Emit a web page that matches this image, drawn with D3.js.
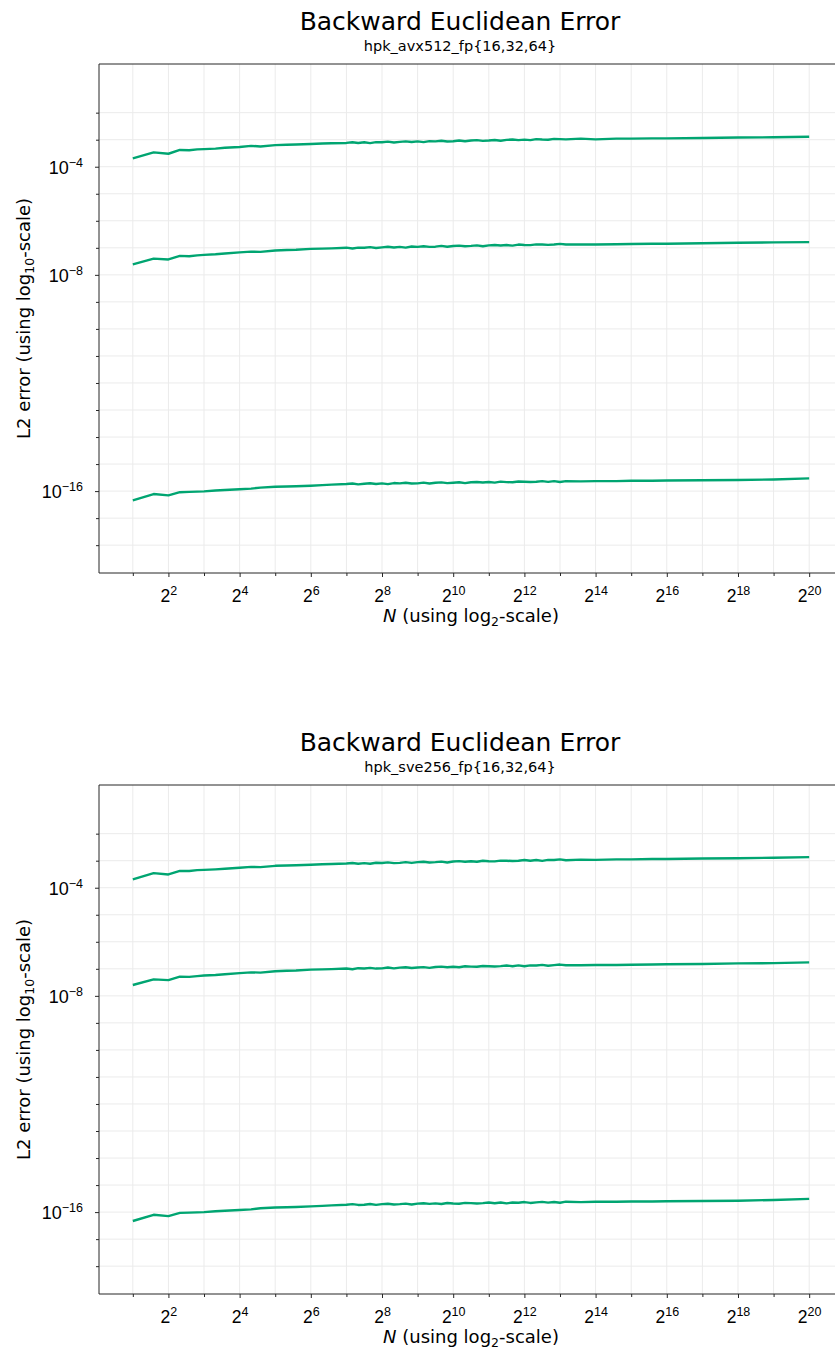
<!DOCTYPE html>
<html>
<head>
<meta charset="utf-8">
<script src="https://cdnjs.cloudflare.com/ajax/libs/d3/7.8.5/d3.min.js"></script>
<style>
  body { margin: 0; background: #fff; }
  svg { display: block; font-family: "DejaVu Sans", sans-serif; }
</style>
</head>
<body>
<div id="chart"></div>
<script>
// problem sizes N
const sizes = [2, 3, 4, 5, 6, 7, 8, 10, 12, 16, 20, 24, 32, 40, 48, 64, 80, 96,
  128, 144, 161, 181, 203, 228, 256, 287, 323, 362, 406, 456, 512, 575, 645, 724, 813, 912,
  1024, 1149, 1290, 1448, 1625, 1825, 2048, 2299, 2580, 2896, 3251, 3649, 4096, 4598, 5161,
  5793, 6502, 7298, 8192, 9195,
  12288, 16384, 24576, 32768, 49152, 65536, 131072, 262144, 524288, 1048576];

// log10 of the L2 error
const avx512Fp16 = [-3.69, -3.47, -3.52, -3.38, -3.39, -3.36, -3.35, -3.33, -3.30, -3.27, -3.23, -3.25, -3.20, -3.19, -3.18, -3.16, -3.14, -3.13,
  -3.120, -3.096, -3.122, -3.094, -3.125, -3.091, -3.097, -3.073, -3.105, -3.081, -3.062, -3.088, -3.064, -3.091, -3.052, -3.063, -3.039, -3.065, -3.057,
  -3.028, -3.059, -3.030, -3.016, -3.043, -3.029, -3.010, -3.041, -3.007, -2.994, -3.015, -2.996, -3.017, -2.978, -2.995, -3.001, -2.972, -2.978, -2.989,
  -2.96, -2.99, -2.96, -2.96, -2.95, -2.95, -2.94, -2.92, -2.91, -2.89];
const avx512Fp32 = [-7.61, -7.40, -7.43, -7.30, -7.31, -7.28, -7.26, -7.24, -7.21, -7.17, -7.14, -7.15, -7.10, -7.08, -7.07, -7.04, -7.03, -7.02,
  -6.995, -7.026, -6.992, -6.999, -6.975, -7.006, -6.982, -6.963, -6.990, -6.966, -6.992, -6.953, -6.964, -6.941, -6.967, -6.958, -6.929, -6.960, -6.932,
  -6.918, -6.944, -6.930, -6.911, -6.943, -6.909, -6.895, -6.916, -6.897, -6.919, -6.880, -6.896, -6.902, -6.873, -6.880, -6.891, -6.877, -6.853, -6.879,
  -6.88, -6.88, -6.87, -6.86, -6.85, -6.85, -6.83, -6.81, -6.80, -6.79];
const avx512Fp64 = [-16.34, -16.11, -16.16, -16.04, -16.03, -16.02, -16.01, -15.98, -15.96, -15.93, -15.91, -15.87, -15.84, -15.83, -15.82, -15.80, -15.78, -15.76,
  -15.740, -15.717, -15.750, -15.727, -15.709, -15.736, -15.714, -15.741, -15.703, -15.716, -15.693, -15.720, -15.713, -15.685, -15.717, -15.689, -15.677, -15.704, -15.691,
  -15.674, -15.706, -15.673, -15.661, -15.683, -15.665, -15.687, -15.650, -15.667, -15.674, -15.647, -15.654, -15.666, -15.654, -15.631, -15.658, -15.630, -15.663, -15.630,
  -15.64, -15.63, -15.63, -15.62, -15.62, -15.61, -15.60, -15.59, -15.57, -15.53];

const sve256Fp16 = [-3.69, -3.46, -3.51, -3.38, -3.38, -3.35, -3.34, -3.32, -3.30, -3.26, -3.23, -3.24, -3.19, -3.18, -3.17, -3.15, -3.13, -3.12,
  -3.105, -3.086, -3.112, -3.089, -3.115, -3.076, -3.087, -3.063, -3.090, -3.081, -3.052, -3.083, -3.054, -3.041, -3.067, -3.053, -3.034, -3.065, -3.032,
  -3.018, -3.039, -3.020, -3.041, -3.003, -3.019, -3.025, -2.996, -3.002, -3.014, -3.000, -2.976, -3.002, -2.973, -3.005, -2.971, -2.977, -2.953, -2.984,
  -2.96, -2.97, -2.95, -2.95, -2.94, -2.94, -2.92, -2.91, -2.89, -2.87];
const sve256Fp32 = [-7.60, -7.39, -7.42, -7.29, -7.30, -7.27, -7.25, -7.23, -7.20, -7.16, -7.13, -7.14, -7.09, -7.07, -7.06, -7.03, -7.02, -7.01,
  -6.990, -7.016, -6.977, -6.989, -6.965, -6.991, -6.982, -6.953, -6.985, -6.956, -6.942, -6.968, -6.954, -6.936, -6.967, -6.933, -6.919, -6.940, -6.922,
  -6.943, -6.904, -6.920, -6.926, -6.898, -6.904, -6.915, -6.901, -6.877, -6.904, -6.875, -6.906, -6.872, -6.878, -6.855, -6.886, -6.862, -6.843, -6.869,
  -6.87, -6.86, -6.86, -6.85, -6.84, -6.83, -6.82, -6.80, -6.79, -6.76];
const sve256Fp64 = [-16.33, -16.10, -16.15, -16.03, -16.02, -16.01, -16.00, -15.97, -15.95, -15.92, -15.90, -15.86, -15.83, -15.82, -15.81, -15.79, -15.77, -15.75,
  -15.730, -15.707, -15.735, -15.727, -15.699, -15.731, -15.704, -15.691, -15.718, -15.706, -15.688, -15.720, -15.688, -15.675, -15.697, -15.679, -15.702, -15.664, -15.681,
  -15.689, -15.661, -15.668, -15.681, -15.668, -15.645, -15.672, -15.645, -15.677, -15.644, -15.652, -15.629, -15.661, -15.639, -15.621, -15.648, -15.625, -15.653, -15.615,
  -15.63, -15.62, -15.62, -15.61, -15.61, -15.60, -15.59, -15.58, -15.55, -15.51];

const panelTitles = ["Backward Euclidean Error", "Backward Euclidean Error"];
const panelSubtitles = ["hpk_avx512_fp{16,32,64}", "hpk_sve256_fp{16,32,64}"];
const panelSeries = [[avx512Fp16, avx512Fp32, avx512Fp64], [sve256Fp16, sve256Fp32, sve256Fp64]];

// tick exponents
const xMajorPowers = [2, 4, 6, 8, 10, 12, 14, 16, 18, 20];
const xMinorPowers = [1, 3, 5, 7, 9, 11, 13, 15, 17, 19, 21];
const yMajorPowers = [-4, -8, -16];
const yGridPowers = [-18, -17, -16, -15, -14, -13, -12, -11, -10, -9, -8, -7, -6, -5, -4, -3, -2];

const width = 835
, height = 1351
, panelOffset = 721
, plotLeft = 99
, plotRight = 843
, plotTop = 64
, plotBottom = 573
, lineColor = "#00a571"
, gridColor = "#ebebeb"
, axisColor = "#262626";

const svg = d3.select("#chart").append("svg")
  .attr("width", width)
  .attr("height", height);

const xScale = d3.scaleLog().base(2)
  .domain([2 ** 0.05, 2 ** 20.95])
  .range([plotLeft, plotRight]);

const yScale = d3.scaleLog()
  .domain([10 ** -19.03, 10 ** -0.2])
  .range([plotBottom, plotTop]);

const supText = (sel, base, exp) => {
  sel.text(null);
  sel.append("tspan").text(base);
  sel.append("tspan").attr("dy", -7).style("font-size", "12.5px").text(exp);
};

const renderPanel = (idx) => {
  const g = svg.append("g")
    .attr("transform", `translate(0,${idx * panelOffset})`);

  // grid
  g.append("g").selectAll("line")
    .data(xMajorPowers.concat(xMinorPowers))
    .join("line")
    .attr("x1", p => xScale(2 ** p)).attr("x2", p => xScale(2 ** p))
    .attr("y1", plotTop).attr("y2", plotBottom)
    .attr("stroke", gridColor).attr("stroke-width", 1);

  g.append("g").selectAll("line")
    .data(yGridPowers)
    .join("line")
    .attr("x1", plotLeft).attr("x2", plotRight)
    .attr("y1", p => yScale(10 ** p)).attr("y2", p => yScale(10 ** p))
    .attr("stroke", gridColor).attr("stroke-width", 1);

  // axes
  const xMinorAxis = d3.axisBottom(xScale)
    .tickValues(xMinorPowers.map(p => 2 ** p))
    .tickSize(3).tickSizeOuter(0).tickFormat("");
  const xAxis = d3.axisBottom(xScale)
    .tickValues(xMajorPowers.map(p => 2 ** p))
    .tickSize(4).tickSizeOuter(0).tickFormat("");

  g.append("g").attr("transform", `translate(0,${plotBottom})`).call(xMinorAxis)
    .call(a => a.select(".domain").remove());
  const xAxisG = g.append("g").attr("transform", `translate(0,${plotBottom})`).call(xAxis)
    .call(a => a.select(".domain").remove());
  xAxisG.selectAll(".tick text")
    .attr("y", 29).attr("dy", null)
    .style("font-size", "17.5px").attr("fill", "#000")
    .each(function(d) { supText(d3.select(this), "2", String(Math.round(Math.log2(d)))); });

  const yMinorAxis = d3.axisLeft(yScale)
    .tickValues(yGridPowers.filter(p => !yMajorPowers.includes(p)).map(p => 10 ** p))
    .tickSize(3).tickSizeOuter(0).tickFormat("");
  const yAxis = d3.axisLeft(yScale)
    .tickValues(yMajorPowers.map(p => 10 ** p))
    .tickSize(4).tickSizeOuter(0).tickFormat("");

  g.append("g").attr("transform", `translate(${plotLeft},0)`).call(yMinorAxis)
    .call(a => a.select(".domain").remove());
  const yAxisG = g.append("g").attr("transform", `translate(${plotLeft},0)`).call(yAxis)
    .call(a => a.select(".domain").remove());
  yAxisG.selectAll(".tick text")
    .attr("x", -16).attr("dy", "0.36em")
    .style("font-size", "18px").attr("fill", "#000")
    .each(function(d) { supText(d3.select(this), "10", "\u2212" + Math.round(-Math.log10(d))); });

  g.selectAll(".tick line").attr("stroke", axisColor);

  // frame (right side falls outside the picture)
  g.append("path")
    .attr("d", `M${plotRight},${plotTop}H${plotLeft}V${plotBottom}H${plotRight}`)
    .attr("fill", "none")
    .attr("stroke", axisColor)
    .attr("stroke-width", 1);

  // lines
  const lineGenerator = d3.line()
    .x(d => xScale(d.n))
    .y(d => yScale(d.err));

  panelSeries[idx].forEach(logs => {
    const lineData = sizes.map((n, i) => ({n: n, err: 10 ** logs[i]}));
    g.append("path")
      .attr("fill", "none")
      .attr("stroke", lineColor)
      .attr("stroke-width", 2.4)
      .attr("stroke-linejoin", "round")
      .attr("d", lineGenerator(lineData));
  });

  // titles
  g.append("text")
    .attr("x", 460).attr("y", 30)
    .attr("text-anchor", "middle")
    .style("font-size", "25px")
    .text(panelTitles[idx]);
  g.append("text")
    .attr("x", 460).attr("y", 51)
    .attr("text-anchor", "middle")
    .style("font-size", "14.5px")
    .text(panelSubtitles[idx]);

  // axis labels
  const xLabel = g.append("text")
    .attr("x", 471).attr("y", 622)
    .attr("text-anchor", "middle")
    .style("font-size", "18px");
  xLabel.append("tspan").style("font-style", "italic").text("N");
  xLabel.append("tspan").text(" (using log");
  xLabel.append("tspan").attr("dy", 4).style("font-size", "12.5px").text("2");
  xLabel.append("tspan").attr("dy", -4).text("-scale)");

  const yLabel = g.append("text")
    .attr("transform", `translate(30,${(plotTop + plotBottom) / 2}) rotate(-90)`)
    .attr("text-anchor", "middle")
    .style("font-size", "18px");
  yLabel.append("tspan").text("L2 error (using log");
  yLabel.append("tspan").attr("dy", 4).style("font-size", "12.5px").text("10");
  yLabel.append("tspan").attr("dy", -4).text("-scale)");
};

renderPanel(0);
renderPanel(1);
</script>
</body>
</html>
